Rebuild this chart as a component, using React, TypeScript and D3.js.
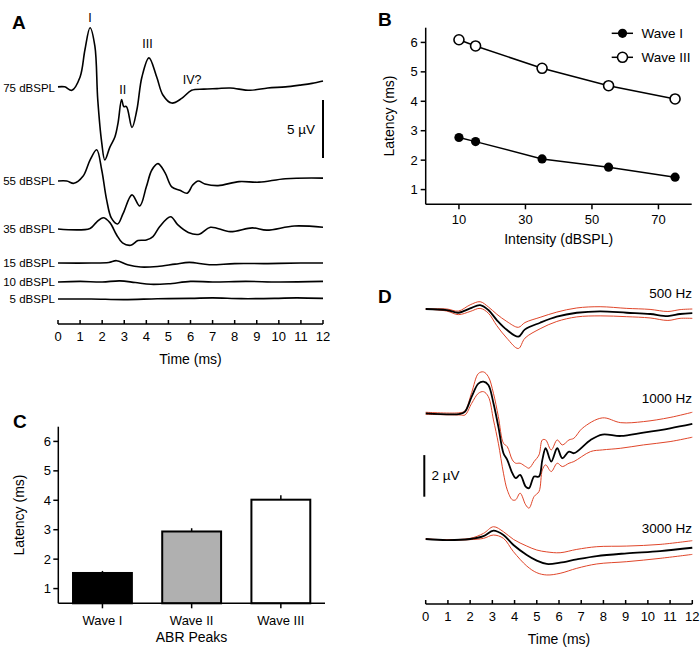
import * as d3 from 'd3';
import React from 'react';

// ---- Panel A: ABR traces at each level, [time ms, µV] ----
const levels = ['75 dBSPL', '55 dBSPL', '35 dBSPL', '15 dBSPL', '10 dBSPL', '5 dBSPL'];
const abr75: [number, number][] = [
  [0, 0.1], [0.3, 0.1], [0.63, -0.2], [1.0, 0.95], [1.22, 3.3], [1.45, 5.2], [1.67, 3.6],
  [1.8, -1.0], [1.98, -4.7], [2.12, -6.2], [2.35, -5.1], [2.58, -4.2], [2.72, -3.0],
  [2.88, -1.0], [2.98, -1.6], [3.1, -1.6], [3.35, -3.4], [3.57, -1.9], [3.8, 0.95],
  [4.12, 2.6], [4.47, 0.95], [4.75, -0.6], [5.15, -1.3], [5.6, -0.9], [6.05, -0.2],
  [6.6, -0.1], [7.2, -0.05], [7.8, 0.0], [8.7, -0.2], [9.5, 0.0], [10.3, 0.1],
  [10.95, 0.25], [11.5, 0.4], [12, 0.6],
];
const abr55: [number, number][] = [
  [0, 0.0], [0.4, 0.0], [0.72, -0.2], [1.13, 0.4], [1.45, 1.8], [1.75, 2.7], [1.98, 0.95],
  [2.2, -1.6], [2.42, -3.2], [2.7, -3.7], [2.95, -2.8], [3.35, -1.2], [3.7, -2.15],
  [4.0, -0.5], [4.25, 0.95], [4.53, 1.5], [4.85, 0.7], [5.15, -0.5], [5.52, -0.8],
  [5.85, -1.05], [6.1, -0.35], [6.35, 0.0], [6.65, -0.25], [7.25, -0.4], [8.2, -0.05],
  [9.1, -0.1], [10.3, 0.2], [12, 0.25],
];
const abr35: [number, number][] = [
  [0, 0], [1.45, 0.05], [1.75, 0.6], [2.05, 0.97], [2.35, 0.55], [2.65, -0.5], [2.92, -1.2],
  [3.3, -1.4], [3.62, -1.0], [4.0, -0.95], [4.3, -0.65], [4.6, 0.2], [5.1, 1.06],
  [5.43, 0.35], [5.9, -0.3], [6.4, -0.45], [6.9, 0.15], [7.8, -0.23], [8.8, 0.1],
  [9.45, -0.1], [10.7, 0.26], [12, 0.15],
];
const abr15: [number, number][] = [
  [0, 0], [1.5, 0], [2.3, 0.05], [2.65, 0.2], [3.15, -0.15], [3.75, -0.35], [4.5, -0.3],
  [5.3, -0.1], [5.95, 0.05], [6.85, -0.15], [8, -0.05], [9.5, -0.05], [11, 0], [12, 0],
];
const abr10: [number, number][] = [
  [0, 0], [1, 0.05], [2, 0], [2.8, 0.1], [3.5, -0.05], [4.2, -0.2], [5, -0.15], [6, 0.05],
  [7, 0], [8.5, 0.05], [10, 0], [12, 0.05],
];
const abr5: [number, number][] = [
  [0, 0], [1.5, 0], [3, -0.05], [4.5, 0.02], [6, 0.05], [7, 0.1], [8.3, 0.03], [9.8, 0.05],
  [10.8, 0.1], [12, 0.05],
];
const abrTraces = [abr75, abr55, abr35, abr15, abr10, abr5];

// ---- Panel B: latency vs intensity ----
const intensities = [10, 15, 35, 55, 75];
const waveILatency = [2.77, 2.63, 2.04, 1.76, 1.42];
const waveIIILatency = [6.09, 5.88, 5.12, 4.53, 4.08];

// ---- Panel C: peak latencies ----
const peaks = ['Wave I', 'Wave II', 'Wave III'];
const peakMeans = [1.53, 2.94, 4.02];
const peakErr = [0.07, 0.11, 0.15];

// ---- Panel D: tone-evoked responses, mean and ±SEM ----
const freqLabels = ['500 Hz', '1000 Hz', '3000 Hz'];
const tone500Mean: [number, number][] = [
  [0, 0], [0.95, -0.05], [1.47, -0.18], [2.0, 0.03], [2.45, 0.19], [2.82, -0.05], [3.2, -0.53],
  [3.65, -1.0], [4.17, -1.33], [4.47, -0.98], [5.15, -0.66], [5.9, -0.37], [6.8, -0.18],
  [7.85, -0.11], [9.05, -0.18], [10.1, -0.24], [10.9, -0.34], [11.45, -0.24], [12, -0.2],
];
const tone500Upper: [number, number][] = [
  [0, 0], [0.95, 0], [1.47, -0.1], [2.0, 0.2], [2.45, 0.35], [2.82, 0.1], [3.2, -0.25],
  [3.65, -0.6], [4.17, -0.88], [4.47, -0.65], [5.15, -0.4], [5.9, -0.15], [6.8, 0.05],
  [7.85, 0.11], [9.05, 0.03], [10.1, -0.02], [10.9, -0.12], [11.45, -0.03], [12, 0.0],
];
const tone500Lower: [number, number][] = [
  [0, 0], [0.95, -0.1], [1.47, -0.27], [2.0, -0.12], [2.45, 0.03], [2.82, -0.2], [3.2, -0.8],
  [3.65, -1.4], [4.17, -1.9], [4.47, -1.4], [5.15, -0.95], [5.9, -0.6], [6.8, -0.38],
  [7.85, -0.33], [9.05, -0.37], [10.1, -0.43], [10.9, -0.55], [11.45, -0.45], [12, -0.45],
];
const tone1000Mean: [number, number][] = [
  [0, 0], [1.55, -0.03], [1.77, 0.08], [2.07, 0.8], [2.37, 1.43], [2.6, 1.52], [2.82, 1.36],
  [3.05, 0.48], [3.27, -0.64], [3.5, -1.92], [3.67, -2.24], [3.9, -2.88], [4.05, -3.12],
  [4.25, -2.96], [4.5, -3.52], [4.65, -3.6], [4.88, -3.04], [5.1, -3.04], [5.25, -2.24],
  [5.4, -1.68], [5.65, -2.32], [5.92, -1.68], [6.15, -2.16], [6.45, -1.84], [6.67, -1.92],
  [7.42, -1.28], [7.95, -1.02], [8.78, -1.09], [9.8, -0.93], [11.0, -0.72], [12, -0.51],
];
const tone1000Upper: [number, number][] = [
  [0, 0.05], [1.55, 0.03], [1.77, 0.12], [2.07, 1.0], [2.37, 1.91], [2.6, 1.99], [2.82, 1.76],
  [3.05, 0.96], [3.27, -0.16], [3.5, -1.44], [3.67, -1.6], [3.9, -2.24], [4.05, -2.4],
  [4.25, -2.4], [4.5, -2.56], [4.65, -2.64], [4.88, -2.32], [5.1, -2.0], [5.25, -1.28],
  [5.4, -1.28], [5.65, -1.76], [5.92, -1.28], [6.15, -1.52], [6.45, -1.28], [6.67, -1.2],
  [7.05, -0.72], [7.95, -0.22], [8.78, -0.45], [9.8, -0.4], [11.0, -0.2], [12, 0.05],
];
const tone1000Lower: [number, number][] = [
  [0, -0.05], [1.55, -0.08], [1.77, -0.08], [2.07, 0.48], [2.37, 0.96], [2.6, 1.04], [2.82, 0.8],
  [3.05, -0.32], [3.27, -1.44], [3.5, -2.88], [3.67, -3.68], [3.9, -4.16], [4.05, -4.16],
  [4.25, -3.84], [4.5, -4.4], [4.65, -4.56], [4.88, -4.0], [5.1, -3.76], [5.25, -2.72],
  [5.4, -2.48], [5.65, -2.8], [5.92, -2.4], [6.15, -2.56], [6.45, -2.4], [6.67, -2.32],
  [7.42, -1.84], [7.95, -1.76], [8.78, -1.68], [9.8, -1.52], [11.0, -1.36], [12, -1.15],
];
const tone3000Mean: [number, number][] = [
  [0, 0], [0.95, -0.05], [2.0, 0], [2.6, 0.14], [3.05, 0.4], [3.5, 0.19], [3.95, -0.29],
  [4.55, -0.77], [5.0, -1.04], [5.45, -1.2], [6.05, -1.14], [6.8, -0.98], [7.7, -0.82],
  [9.05, -0.69], [10.55, -0.58], [12, -0.42],
];
const tone3000Upper: [number, number][] = [
  [0, 0], [0.95, -0.03], [2.0, 0.03], [2.6, 0.27], [3.05, 0.59], [3.5, 0.35], [3.95, -0.02],
  [4.55, -0.34], [5.0, -0.53], [5.45, -0.62], [6.05, -0.66], [6.8, -0.5], [7.7, -0.37],
  [9.05, -0.34], [10.55, -0.26], [12, -0.08],
];
const tone3000Lower: [number, number][] = [
  [0, 0], [0.95, -0.05], [2.0, -0.03], [2.6, 0.03], [3.05, 0.19], [3.5, 0.03], [3.95, -0.61],
  [4.55, -1.3], [5.0, -1.62], [5.45, -1.73], [6.05, -1.65], [6.8, -1.41], [7.7, -1.2],
  [9.05, -1.09], [10.55, -0.93], [12, -0.74],
];
const toneTraces = [
  { mean: tone500Mean, upper: tone500Upper, lower: tone500Lower },
  { mean: tone1000Mean, upper: tone1000Upper, lower: tone1000Lower },
  { mean: tone3000Mean, upper: tone3000Upper, lower: tone3000Lower },
];

const font = "'Liberation Sans', Arial, Helvetica, sans-serif";
const red = '#e0462a';

function tracePath(
  data: [number, number][],
  x: d3.ScaleLinear<number, number>,
  y: d3.ScaleLinear<number, number>
) {
  return (
    d3
      .line<[number, number]>()
      .x(d => x(d[0]))
      .y(d => y(d[1]))
      .curve(d3.curveCatmullRom.alpha(0.5))(data) ?? ''
  );
}

function PanelLabel({ x, y, text }: { x: number; y: number; text: string }) {
  return (
    <text x={x} y={y} fontSize={19} fontWeight="bold">
      {text}
    </text>
  );
}

// time axis with ticks pointing up, used by A and D
function TimeAxis({ x, y }: { x: d3.ScaleLinear<number, number>; y: number }) {
  const [x0, x1] = x.range();
  return (
    <g>
      <line x1={x0} x2={x1} y1={y} y2={y} stroke="#000" strokeWidth={1.5} />
      {x.ticks(12).map(t => (
        <g key={t}>
          <line x1={x(t)} x2={x(t)} y1={y} y2={y - 4} stroke="#000" strokeWidth={1.5} />
          <text x={x(t)} y={y + 17} fontSize={13} textAnchor="middle">
            {t}
          </text>
        </g>
      ))}
      <text x={(x0 + x1) / 2} y={y + 40} fontSize={14} textAnchor="middle">
        Time (ms)
      </text>
    </g>
  );
}

function PanelA() {
  const xA = d3.scaleLinear().domain([0, 12]).range([58, 323]);
  const uv = 11.6; // px per µV
  const baselines = [88, 181, 229, 263, 282, 299];
  const bar = d3.scaleLinear().domain([0, 5]).range([158, 158 - 5 * uv]);
  return (
    <g>
      <PanelLabel x={12} y={29} text="A" />
      {levels.map((lab, i) => {
        const y = d3.scaleLinear().domain([0, 1]).range([baselines[i], baselines[i] - uv]);
        return (
          <g key={lab}>
            <text x={55} y={baselines[i] + 4} fontSize={11.5} textAnchor="end">
              {lab}
            </text>
            <path d={tracePath(abrTraces[i], xA, y)} fill="none" stroke="#000" strokeWidth={1.6} />
          </g>
        );
      })}
      <text x={xA(1.45)} y={22} fontSize={12.5} textAnchor="middle">I</text>
      <text x={xA(2.93)} y={94} fontSize={12.5} textAnchor="middle">II</text>
      <text x={xA(4.05)} y={48} fontSize={12.5} textAnchor="middle">III</text>
      <text x={xA(5.65)} y={84} fontSize={12.5}>IV?</text>
      <line x1={323} x2={323} y1={bar(0)} y2={bar(5)} stroke="#000" strokeWidth={2} />
      <text x={315} y={134} fontSize={13.5} textAnchor="end">5 µV</text>
      <TimeAxis x={xA} y={324} />
    </g>
  );
}

function PanelB() {
  const x = d3.scaleLinear().domain([0, 80]).range([425.7, 691.7]);
  const y = d3.scaleLinear().domain([0.5, 6.5]).range([204.3, 27.7]);
  const pts = (vals: number[]) => intensities.map((d, i) => [d, vals[i]] as [number, number]);
  const line = d3
    .line<[number, number]>()
    .x(d => x(d[0]))
    .y(d => y(d[1]));
  const legend = [
    { label: 'Wave I', filled: true, y: 33.3 },
    { label: 'Wave III', filled: false, y: 57.3 },
  ];
  return (
    <g>
      <PanelLabel x={378} y={26} text="B" />
      <line x1={x(0)} x2={x(0)} y1={y(6.5)} y2={y(0.5)} stroke="#000" strokeWidth={1.5} />
      <line x1={x(0)} x2={x(80)} y1={y(0.5)} y2={y(0.5)} stroke="#000" strokeWidth={1.5} />
      {[1, 2, 3, 4, 5, 6].map(t => (
        <g key={t}>
          <line x1={x(0) - 5} x2={x(0)} y1={y(t)} y2={y(t)} stroke="#000" strokeWidth={1.5} />
          <text x={x(0) - 8} y={y(t) + 4.5} fontSize={13} textAnchor="end">{t}</text>
        </g>
      ))}
      {[10, 30, 50, 70].map(t => (
        <g key={t}>
          <line x1={x(t)} x2={x(t)} y1={y(0.5)} y2={y(0.5) + 5} stroke="#000" strokeWidth={1.5} />
          <text x={x(t)} y={224} fontSize={13} textAnchor="middle">{t}</text>
        </g>
      ))}
      <text x={(x(0) + x(80)) / 2} y={244} fontSize={14} textAnchor="middle">
        Intensity (dBSPL)
      </text>
      <text
        transform={`translate(394,${(y(0.5) + y(6.5)) / 2}) rotate(-90)`}
        fontSize={14}
        textAnchor="middle"
      >
        Latency (ms)
      </text>
      <path d={line(pts(waveIIILatency)) ?? ''} fill="none" stroke="#000" strokeWidth={1.5} />
      <path d={line(pts(waveILatency)) ?? ''} fill="none" stroke="#000" strokeWidth={1.5} />
      {pts(waveILatency).map((d, i) => (
        <circle key={'a' + i} cx={x(d[0])} cy={y(d[1])} r={4.6} fill="#000" />
      ))}
      {pts(waveIIILatency).map((d, i) => (
        <circle key={'b' + i} cx={x(d[0])} cy={y(d[1])} r={5} fill="#fff" stroke="#000" strokeWidth={1.6} />
      ))}
      {legend.map(l => (
        <g key={l.label}>
          <line x1={611.7} x2={633} y1={l.y} y2={l.y} stroke="#000" strokeWidth={1.5} />
          {l.filled ? (
            <circle cx={622.5} cy={l.y} r={4.6} fill="#000" />
          ) : (
            <circle cx={622.5} cy={l.y} r={5} fill="#fff" stroke="#000" strokeWidth={1.6} />
          )}
          <text x={641.5} y={l.y + 4.5} fontSize={13.5}>{l.label}</text>
        </g>
      ))}
    </g>
  );
}

function PanelC() {
  const x = d3.scaleBand<string>().domain(peaks).range([58.3, 325]).paddingInner(0.34).paddingOuter(0.165);
  const y = d3.scaleLinear().domain([0.5, 6.5]).range([603.3, 426.7]);
  const fills = ['#000', '#b0b0b0', '#fff'];
  return (
    <g>
      <PanelLabel x={13} y={428} text="C" />
      {peaks.map((p, i) => (
        <g key={p}>
          <line
            x1={x(p)! + x.bandwidth() / 2}
            x2={x(p)! + x.bandwidth() / 2}
            y1={y(peakMeans[i])}
            y2={y(peakMeans[i] + peakErr[i])}
            stroke="#000"
            strokeWidth={1.5}
          />
          <rect
            x={x(p)!}
            y={y(peakMeans[i])}
            width={x.bandwidth()}
            height={y(0.5) - y(peakMeans[i])}
            fill={fills[i]}
            stroke="#000"
            strokeWidth={2}
          />
        </g>
      ))}
      <line x1={58.3} x2={58.3} y1={y(6.5)} y2={y(0.5)} stroke="#000" strokeWidth={1.5} />
      <line x1={58.3} x2={325} y1={y(0.5)} y2={y(0.5)} stroke="#000" strokeWidth={1.5} />
      {[1, 2, 3, 4, 5, 6].map(t => (
        <g key={t}>
          <line x1={53.3} x2={58.3} y1={y(t)} y2={y(t)} stroke="#000" strokeWidth={1.5} />
          <text x={51} y={y(t) + 4.5} fontSize={13} textAnchor="end">{t}</text>
        </g>
      ))}
      {peaks.map(p => (
        <g key={p}>
          <line
            x1={x(p)! + x.bandwidth() / 2}
            x2={x(p)! + x.bandwidth() / 2}
            y1={y(0.5)}
            y2={y(0.5) + 5}
            stroke="#000"
            strokeWidth={1.5}
          />
          <text x={x(p)! + x.bandwidth() / 2} y={625} fontSize={13} textAnchor="middle">{p}</text>
        </g>
      ))}
      <text x={191.5} y={642} fontSize={14} textAnchor="middle">ABR Peaks</text>
      <text transform={`translate(24,${(y(0.5) + y(6.5)) / 2}) rotate(-90)`} fontSize={14} textAnchor="middle">
        Latency (ms)
      </text>
    </g>
  );
}

function PanelD() {
  const x = d3.scaleLinear().domain([0, 12]).range([425.7, 692.3]);
  const uv = 20.8; // px per µV
  const baselines = [309, 413.3, 539];
  const labelY = [298, 403, 533];
  const bar = d3.scaleLinear().domain([0, 2]).range([496.7, 496.7 - 2 * uv]);
  return (
    <g>
      <PanelLabel x={378} y={303} text="D" />
      {toneTraces.map((tr, i) => {
        const y = d3.scaleLinear().domain([0, 1]).range([baselines[i], baselines[i] - uv]);
        return (
          <g key={i}>
            <path d={tracePath(tr.upper, x, y)} fill="none" stroke={red} strokeWidth={1} />
            <path d={tracePath(tr.lower, x, y)} fill="none" stroke={red} strokeWidth={1} />
            <path d={tracePath(tr.mean, x, y)} fill="none" stroke="#000" strokeWidth={1.8} />
            <text x={692} y={labelY[i]} fontSize={13.5} textAnchor="end">{freqLabels[i]}</text>
          </g>
        );
      })}
      <line x1={424.3} x2={424.3} y1={bar(0)} y2={bar(2)} stroke="#000" strokeWidth={2} />
      <text x={431.5} y={480} fontSize={13.5}>2 µV</text>
      <TimeAxis x={x} y={604} />
    </g>
  );
}

export default function App() {
  return (
    <svg
      width={700}
      height={657}
      style={{ position: 'absolute', left: 0, top: 0, background: '#fff' }}
      fontFamily={font}
    >
      <rect width={700} height={657} fill="#fff" />
      <PanelA />
      <PanelB />
      <PanelC />
      <PanelD />
    </svg>
  );
}
